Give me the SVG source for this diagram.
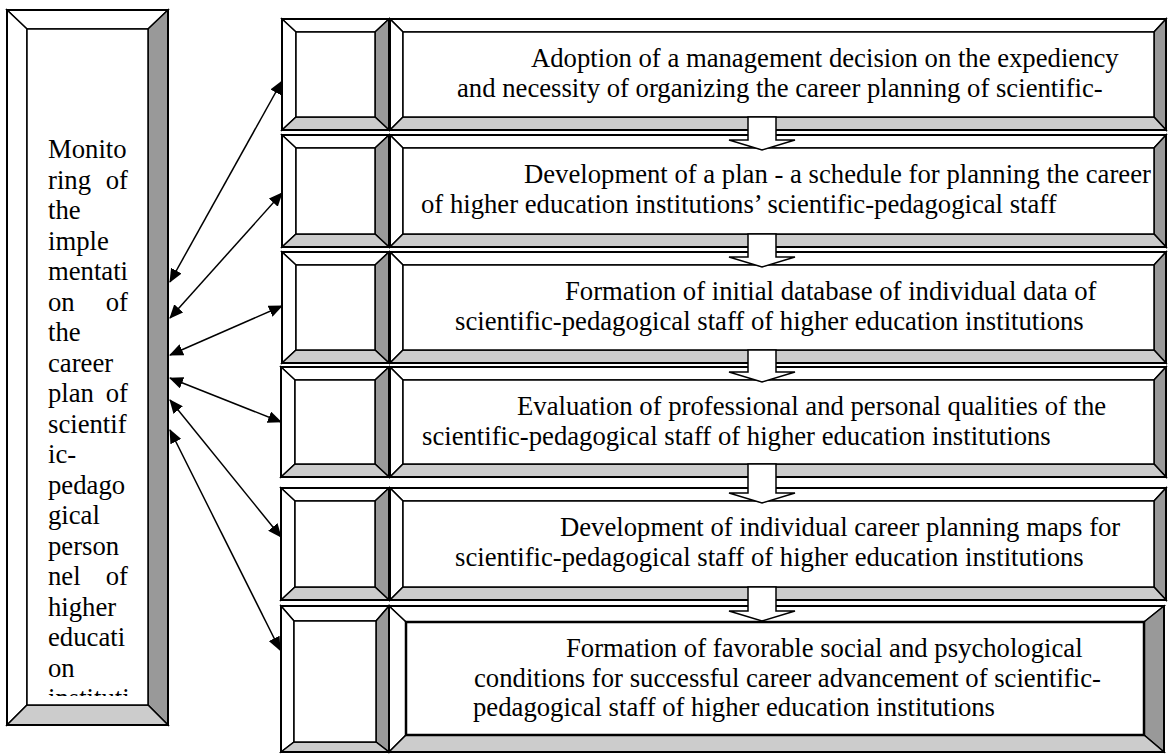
<svg xmlns="http://www.w3.org/2000/svg" width="1175" height="754" viewBox="0 0 1175 754">
<style>
.w{fill:#fff;stroke:#000;stroke-width:1.5;stroke-linejoin:miter}
.d{fill:#999;stroke:#000;stroke-width:1.5}
.l{fill:#ccc;stroke:#000;stroke-width:1.5}
.o{fill:none;stroke:#000;stroke-width:2}
.ib{fill:#fff;stroke:#000;stroke-width:2.5}
.c{fill:none;stroke:#000;stroke-width:1.5}
.ba{fill:#fff;stroke:#000;stroke-width:1.5}
text{font-family:"Liberation Serif","Times New Roman",serif;font-size:26.7px;fill:#000}
.e{text-anchor:end}
</style>
<defs>
<marker id="ah" viewBox="0 0 14 12" refX="13" refY="6" markerWidth="14" markerHeight="12" markerUnits="userSpaceOnUse" orient="auto-start-reverse">
<path d="M0,0 L14,6 L0,12 z" fill="#000"/>
</marker>
<clipPath id="pc"><rect x="27" y="29" width="121" height="667"/></clipPath>
</defs>

<g id="monitoring">
<polygon class="w" points="7,10 168,10 148,29 27,29"/>
<polygon class="w" points="7,10 27,29 27,705 7,725"/>
<polygon class="d" points="168,10 168,725 148,705 148,29"/>
<polygon class="l" points="7,725 27,705 148,705 168,725"/>
<rect class="w" x="27" y="29" width="121" height="676"/>
<rect class="o" x="7" y="10" width="161" height="715"/>
<g clip-path="url(#pc)">
<text x="48" y="158">Monito</text>
<text x="48" y="188.5">ring</text><text class="e" x="128" y="188.5">of</text>
<text x="48" y="219">the</text>
<text x="48" y="249.5">imple</text>
<text x="48" y="280">mentati</text>
<text x="48" y="310.5">on</text><text class="e" x="128" y="310.5">of</text>
<text x="48" y="341">the</text>
<text x="48" y="371.5">career</text>
<text x="48" y="402">plan</text><text class="e" x="128" y="402">of</text>
<text x="48" y="432.5">scientif</text>
<text x="48" y="463">ic-</text>
<text x="48" y="493.5">pedago</text>
<text x="48" y="524">gical</text>
<text x="48" y="554.5">person</text>
<text x="48" y="585">nel</text><text class="e" x="128" y="585">of</text>
<text x="48" y="615.5">higher</text>
<text x="48" y="646">educati</text>
<text x="48" y="676.5">on</text>
<text x="48" y="707">instituti</text>
</g>
</g>

<g id="step1">
<polygon class="w" points="282,19 389,19 375,32 296,32"/>
<polygon class="w" points="282,19 296,32 296,117 282,130"/>
<polygon class="d" points="389,19 389,130 375,117 375,32"/>
<polygon class="l" points="282,130 296,117 375,117 389,130"/>
<rect class="w" x="296" y="32" width="79" height="85"/>
<rect class="o" x="282" y="19" width="107" height="111"/>
<polygon class="w" points="390,19 1166,19 1154,32 403,32"/>
<polygon class="w" points="390,19 403,32 403,117 390,130"/>
<polygon class="d" points="1166,19 1166,130 1154,117 1154,32"/>
<polygon class="l" points="390,130 403,117 1154,117 1166,130"/>
<rect class="w" x="403" y="32" width="751" height="85"/>
<rect class="o" x="390" y="19" width="776" height="111"/>
<text x="531" y="67">Adoption of a management decision on the expediency</text>
<text x="457" y="96.5">and necessity of organizing the career planning of scientific-</text>
</g>

<g id="step2">
<polygon class="w" points="282,135 389,135 375,148 296,148"/>
<polygon class="w" points="282,135 296,148 296,234 282,247"/>
<polygon class="d" points="389,135 389,247 375,234 375,148"/>
<polygon class="l" points="282,247 296,234 375,234 389,247"/>
<rect class="w" x="296" y="148" width="79" height="86"/>
<rect class="o" x="282" y="135" width="107" height="112"/>
<polygon class="w" points="390,135 1166,135 1154,148 403,148"/>
<polygon class="w" points="390,135 403,148 403,234 390,247"/>
<polygon class="d" points="1166,135 1166,247 1154,234 1154,148"/>
<polygon class="l" points="390,247 403,234 1154,234 1166,247"/>
<rect class="w" x="403" y="148" width="751" height="86"/>
<rect class="o" x="390" y="135" width="776" height="112"/>
<text x="524" y="183">Development of a plan - a schedule for planning the career</text>
<text x="421" y="212.5">of higher education institutions’ scientific-pedagogical staff</text>
</g>

<g id="step3">
<polygon class="w" points="282,252 389,252 375,265 296,265"/>
<polygon class="w" points="282,252 296,265 296,350 282,363"/>
<polygon class="d" points="389,252 389,363 375,350 375,265"/>
<polygon class="l" points="282,363 296,350 375,350 389,363"/>
<rect class="w" x="296" y="265" width="79" height="85"/>
<rect class="o" x="282" y="252" width="107" height="111"/>
<polygon class="w" points="390,252 1166,252 1154,265 403,265"/>
<polygon class="w" points="390,252 403,265 403,350 390,363"/>
<polygon class="d" points="1166,252 1166,363 1154,350 1154,265"/>
<polygon class="l" points="390,363 403,350 1154,350 1166,363"/>
<rect class="w" x="403" y="265" width="751" height="85"/>
<rect class="o" x="390" y="252" width="776" height="111"/>
<text x="565" y="300">Formation of initial database of individual data of</text>
<text x="455" y="329.5">scientific-pedagogical staff of higher education institutions</text>
</g>

<g id="step4">
<polygon class="w" points="281,367 389,367 375,380 295,380"/>
<polygon class="w" points="281,367 295,380 295,464 281,477"/>
<polygon class="d" points="389,367 389,477 375,464 375,380"/>
<polygon class="l" points="281,477 295,464 375,464 389,477"/>
<rect class="w" x="295" y="380" width="80" height="84"/>
<rect class="o" x="281" y="367" width="108" height="110"/>
<polygon class="w" points="390,367 1166,367 1154,380 403,380"/>
<polygon class="w" points="390,367 403,380 403,464 390,477"/>
<polygon class="d" points="1166,367 1166,477 1154,464 1154,380"/>
<polygon class="l" points="390,477 403,464 1154,464 1166,477"/>
<rect class="w" x="403" y="380" width="751" height="84"/>
<rect class="o" x="390" y="367" width="776" height="110"/>
<text x="517" y="415">Evaluation of professional and personal qualities of the</text>
<text x="422" y="444.5">scientific-pedagogical staff of higher education institutions</text>
</g>

<g id="step5">
<polygon class="w" points="281,488 389,488 375,501 295,501"/>
<polygon class="w" points="281,488 295,501 295,587 281,600"/>
<polygon class="d" points="389,488 389,600 375,587 375,501"/>
<polygon class="l" points="281,600 295,587 375,587 389,600"/>
<rect class="w" x="295" y="501" width="80" height="86"/>
<rect class="o" x="281" y="488" width="108" height="112"/>
<polygon class="w" points="390,488 1166,488 1154,501 403,501"/>
<polygon class="w" points="390,488 403,501 403,587 390,600"/>
<polygon class="d" points="1166,488 1166,600 1154,587 1154,501"/>
<polygon class="l" points="390,600 403,587 1154,587 1166,600"/>
<rect class="w" x="403" y="501" width="751" height="86"/>
<rect class="o" x="390" y="488" width="776" height="112"/>
<text x="560" y="536">Development of individual career planning maps for</text>
<text x="455" y="565.5">scientific-pedagogical staff of higher education institutions</text>
</g>

<g id="step6">
<polygon class="w" points="281,606 389,606 376,621 294,621"/>
<polygon class="w" points="281,606 294,621 294,742 281,752"/>
<polygon class="d" points="389,606 389,752 376,742 376,621"/>
<polygon class="l" points="281,752 294,742 376,742 389,752"/>
<rect class="w" x="294" y="621" width="82" height="121"/>
<rect class="o" x="281" y="606" width="108" height="146"/>
<polygon class="w" points="389,606 1164,606 1144,622 406,622"/>
<polygon class="w" points="389,606 406,622 406,735 389,752"/>
<polygon class="d" points="1164,606 1164,752 1144,735 1144,622"/>
<polygon class="l" points="389,752 406,735 1144,735 1164,752"/>
<rect class="ib" x="406" y="622" width="738" height="113"/>
<rect class="o" x="389" y="606" width="775" height="146"/>
<text x="566" y="657">Formation of favorable social and psychological</text>
<text x="474" y="686.5">conditions for successful career advancement of scientific-</text>
<text x="473" y="716">pedagogical staff of higher education institutions</text>
</g>

<g id="connectors">
<path class="ba" d="M748,117 H776 V140 H795 L762,150 L729,140 H748 Z"/>
<path class="ba" d="M748,234 H776 V257 H795 L762,267 L729,257 H748 Z"/>
<path class="ba" d="M748,350 H776 V372 H795 L762,382 L729,372 H748 Z"/>
<path class="ba" d="M748,464 H776 V493 H795 L762,503 L729,493 H748 Z"/>
<path class="ba" d="M748,587 H776 V611 H795 L762,621 L729,611 H748 Z"/>
<line class="c" x1="170" y1="282" x2="282" y2="81" marker-start="url(#ah)" marker-end="url(#ah)"/>
<line class="c" x1="170" y1="318" x2="282" y2="193" marker-start="url(#ah)" marker-end="url(#ah)"/>
<line class="c" x1="170" y1="355" x2="282" y2="306" marker-start="url(#ah)" marker-end="url(#ah)"/>
<line class="c" x1="170" y1="378" x2="281" y2="422" marker-start="url(#ah)" marker-end="url(#ah)"/>
<line class="c" x1="170" y1="400" x2="281" y2="537" marker-start="url(#ah)" marker-end="url(#ah)"/>
<line class="c" x1="170" y1="430" x2="280" y2="650" marker-start="url(#ah)" marker-end="url(#ah)"/>
</g>
</svg>
